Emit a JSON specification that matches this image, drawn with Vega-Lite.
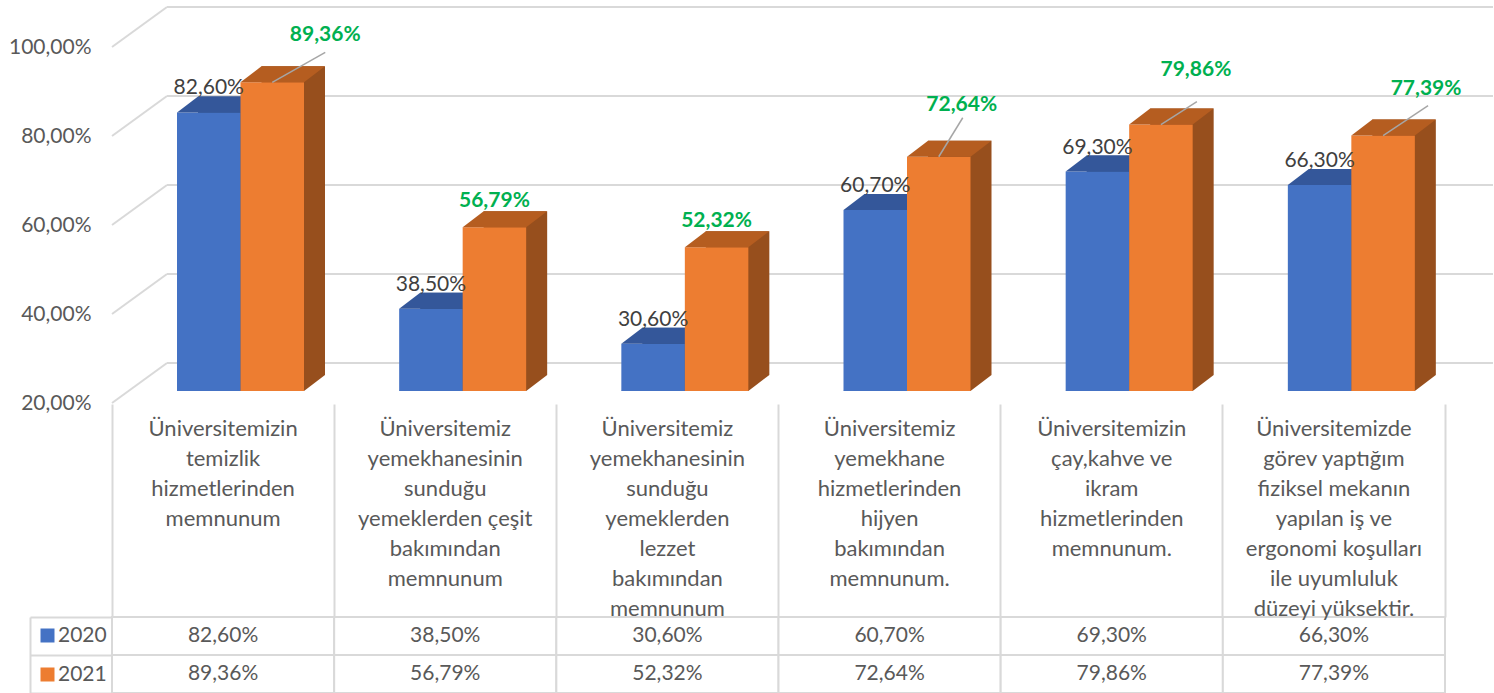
{
  "$schema": "https://vega.github.io/schema/vega-lite/v6.json",
  "background": "white",
  "padding": {"left": 8, "top": 6, "right": 0, "bottom": 0},
  "config": {
    "view": {"stroke": null},
    "font": "Lato",
    "locale": {"number": {"decimal": ",", "thousands": ".", "grouping": [3], "currency": ["", " TL"]}}
  },
  "datasets": {
    "survey": [
      {"k": 1, "cat": "Üniversitemizin\ntemizlik\nhizmetlerinden\nmemnunum", "year": "2020", "value": 0.826},
      {"k": 2, "cat": "Üniversitemiz\nyemekhanesinin\nsunduğu\nyemeklerden çeşit\nbakımından\nmemnunum", "year": "2020", "value": 0.385},
      {"k": 3, "cat": "Üniversitemiz\nyemekhanesinin\nsunduğu\nyemeklerden\nlezzet\nbakımından\nmemnunum", "year": "2020", "value": 0.306},
      {"k": 4, "cat": "Üniversitemiz\nyemekhane\nhizmetlerinden\nhijyen\nbakımından\nmemnunum.", "year": "2020", "value": 0.607},
      {"k": 5, "cat": "Üniversitemizin\nçay,kahve ve\nikram\nhizmetlerinden\nmemnunum.", "year": "2020", "value": 0.693},
      {"k": 6, "cat": "Üniversitemizde\ngörev yaptığım\nfiziksel mekanın\nyapılan iş ve\nergonomi koşulları\nile uyumluluk\ndüzeyi yüksektir.", "year": "2020", "value": 0.663},
      {"k": 1, "cat": "Üniversitemizin\ntemizlik\nhizmetlerinden\nmemnunum", "year": "2021", "value": 0.8936},
      {"k": 2, "cat": "Üniversitemiz\nyemekhanesinin\nsunduğu\nyemeklerden çeşit\nbakımından\nmemnunum", "year": "2021", "value": 0.5679},
      {"k": 3, "cat": "Üniversitemiz\nyemekhanesinin\nsunduğu\nyemeklerden\nlezzet\nbakımından\nmemnunum", "year": "2021", "value": 0.5232},
      {"k": 4, "cat": "Üniversitemiz\nyemekhane\nhizmetlerinden\nhijyen\nbakımından\nmemnunum.", "year": "2021", "value": 0.7264},
      {"k": 5, "cat": "Üniversitemizin\nçay,kahve ve\nikram\nhizmetlerinden\nmemnunum.", "year": "2021", "value": 0.7986},
      {"k": 6, "cat": "Üniversitemizde\ngörev yaptığım\nfiziksel mekanın\nyapılan iş ve\nergonomi koşulları\nile uyumluluk\ndüzeyi yüksektir.", "year": "2021", "value": 0.7739}
    ],
    "grid": [{"g": 0.2}, {"g": 0.4}, {"g": 0.6}, {"g": 0.8}, {"g": 1.0}]
  },
  "spacing": 226,
  "bounds": "flush",
  "vconcat": [
    {
      "width": 1333,
      "height": 356,
      "data": {"name": "survey"},
      "layer": [
        {
          "data": {"name": "grid"},
          "mark": {"type": "rule", "stroke": "#d9d9d9", "strokeWidth": 2, "yOffset": -28},
          "encoding": {
            "y": {"field": "g", "type": "quantitative",
                  "scale": {"domain": [0.2, 1.0], "nice": false, "zero": false},
                  "axis": {"title": null, "format": ".2%", "values": [0.2, 0.4, 0.6, 0.8, 1.0], "labelOffset": 12, "ticks": false, "domain": false, "grid": false, "labelPadding": 21, "labelFontSize": 21, "labelColor": "#595959", "labelFont": "Lato"}},
            "x": {"value": 55},
            "x2": {"value": 1381}
          }
        },
        {
          "data": {"name": "grid"},
          "mark": {"type": "rule", "stroke": "#d9d9d9", "strokeWidth": 2, "yOffset": 12, "y2Offset": -28},
          "encoding": {
            "y": {"field": "g", "type": "quantitative"},
            "y2": {"field": "g"},
            "x": {"value": 0},
            "x2": {"value": 55}
          }
        },
        {
          "transform": [{"filter": "datum.year == '2020'"}],
          "mark": {"type": "bar", "width": 63.5, "xOffset": 6.67, "yOffset": -16, "y2Offset": -16, "fill": "#2f5185"},
          "encoding": {
            "x": {"field": "cat", "type": "nominal", "sort": null, "scale": {"paddingInner": 0, "paddingOuter": 0}, "axis": null},
            "y": {"field": "value", "type": "quantitative"},
            "y2": {"datum": 0.2}
          }
        },
        {
          "transform": [{"filter": "datum.year == '2020'"}],
          "mark": {"type": "point", "shape": "M-0.635,0L0.635,0L1.055,-0.32L-0.215,-0.32Z", "size": 10000, "filled": true, "fill": "#2f5185", "opacity": 1, "strokeWidth": 0, "xOffset": -14.33},
          "encoding": {
            "x": {"field": "cat", "type": "nominal", "sort": null},
            "y": {"datum": 0.2}
          }
        },
        {
          "transform": [{"filter": "datum.year == '2020'"}],
          "mark": {"type": "bar", "width": 63.5, "xOffset": -14.33},
          "encoding": {
            "x": {"field": "cat", "type": "nominal", "sort": null},
            "y": {"field": "value", "type": "quantitative"},
            "y2": {"datum": 0.2},
            "color": {"field": "year", "type": "nominal",
                      "scale": {"domain": ["2020", "2021"], "range": ["#4472c4", "#ed7d31"]},
                      "legend": {"orient": "none", "legendX": -75, "legendY": 590, "title": null, "symbolType": "square", "symbolSize": 196, "symbolStrokeWidth": 0, "labelFontSize": 21, "labelColor": "#595959", "labelFont": "Lato", "labelOffset": 0, "rowPadding": 17, "padding": 0}}
          }
        },
        {
          "transform": [{"filter": "datum.year == '2020'"}],
          "mark": {"type": "point", "shape": "M-0.635,0L0.635,0L1.055,-0.32L-0.215,-0.32Z", "size": 10000, "filled": true, "fill": "#34579a", "opacity": 1, "strokeWidth": 0, "xOffset": -14.33},
          "encoding": {
            "x": {"field": "cat", "type": "nominal", "sort": null},
            "y": {"field": "value", "type": "quantitative"}
          }
        },
        {
          "transform": [{"filter": "datum.year == '2021'"}],
          "mark": {"type": "bar", "width": 63.5, "xOffset": 70.17, "yOffset": -16, "y2Offset": -16, "fill": "#974f1d"},
          "encoding": {
            "x": {"field": "cat", "type": "nominal", "sort": null},
            "y": {"field": "value", "type": "quantitative"},
            "y2": {"datum": 0.2}
          }
        },
        {
          "transform": [{"filter": "datum.year == '2021'"}],
          "mark": {"type": "point", "shape": "M-0.635,0L0.635,0L1.055,-0.32L-0.215,-0.32Z", "size": 10000, "filled": true, "fill": "#974f1d", "opacity": 1, "strokeWidth": 0, "xOffset": 49.17},
          "encoding": {
            "x": {"field": "cat", "type": "nominal", "sort": null},
            "y": {"datum": 0.2}
          }
        },
        {
          "transform": [{"filter": "datum.year == '2021'"}],
          "mark": {"type": "bar", "width": 63.5, "xOffset": 49.17},
          "encoding": {
            "x": {"field": "cat", "type": "nominal", "sort": null},
            "y": {"field": "value", "type": "quantitative"},
            "y2": {"datum": 0.2},
            "color": {"field": "year", "type": "nominal"}
          }
        },
        {
          "transform": [{"filter": "datum.year == '2021'"}],
          "mark": {"type": "point", "shape": "M-0.635,0L0.635,0L1.055,-0.32L-0.215,-0.32Z", "size": 10000, "filled": true, "fill": "#b55d20", "opacity": 1, "strokeWidth": 0, "xOffset": 49.17},
          "encoding": {
            "x": {"field": "cat", "type": "nominal", "sort": null},
            "y": {"field": "value", "type": "quantitative"}
          }
        },
        {
          "transform": [{"filter": "datum.year == '2020'"}],
          "mark": {"type": "text", "xOffset": -14.33, "dy": -18, "baseline": "alphabetic", "fontSize": 21, "fill": "#404040"},
          "encoding": {
            "x": {"field": "cat", "type": "nominal", "sort": null},
            "y": {"field": "value", "type": "quantitative"},
            "text": {"field": "value", "type": "quantitative", "format": ".2%"}
          }
        },
        {
          "transform": [{"filter": "datum.year == '2021' && datum.k == 1"}],
          "mark": {"type": "rule", "stroke": "#a6a6a6", "strokeWidth": 1.5, "xOffset": 49.17, "x2Offset": 102.17, "y2Offset": -30},
          "encoding": {
            "x": {"field": "cat", "type": "nominal", "sort": null},
            "x2": {"field": "cat"},
            "y": {"field": "value", "type": "quantitative"},
            "y2": {"field": "value"}
          }
        },
        {
          "transform": [{"filter": "datum.year == '2021' && datum.k == 4"}],
          "mark": {"type": "rule", "stroke": "#a6a6a6", "strokeWidth": 1.5, "xOffset": 49.17, "x2Offset": 73.17, "y2Offset": -39},
          "encoding": {
            "x": {"field": "cat", "type": "nominal", "sort": null},
            "x2": {"field": "cat"},
            "y": {"field": "value", "type": "quantitative"},
            "y2": {"field": "value"}
          }
        },
        {
          "transform": [{"filter": "datum.year == '2021' && datum.k == 5"}],
          "mark": {"type": "rule", "stroke": "#a6a6a6", "strokeWidth": 1.5, "xOffset": 49.17, "x2Offset": 85.17, "y2Offset": -23},
          "encoding": {
            "x": {"field": "cat", "type": "nominal", "sort": null},
            "x2": {"field": "cat"},
            "y": {"field": "value", "type": "quantitative"},
            "y2": {"field": "value"}
          }
        },
        {
          "transform": [{"filter": "datum.year == '2021' && datum.k == 6"}],
          "mark": {"type": "rule", "stroke": "#a6a6a6", "strokeWidth": 1.5, "xOffset": 49.17, "x2Offset": 94.17, "y2Offset": -30},
          "encoding": {
            "x": {"field": "cat", "type": "nominal", "sort": null},
            "x2": {"field": "cat"},
            "y": {"field": "value", "type": "quantitative"},
            "y2": {"field": "value"}
          }
        },
        {
          "transform": [{"filter": "datum.year == '2021' && datum.k == 1"}],
          "mark": {"type": "text", "xOffset": 102.17, "dy": -47, "baseline": "middle", "fontSize": 21, "fontWeight": "bold", "fill": "#00b050"},
          "encoding": {
            "x": {"field": "cat", "type": "nominal", "sort": null},
            "y": {"field": "value", "type": "quantitative"},
            "text": {"field": "value", "type": "quantitative", "format": ".2%"}
          }
        },
        {
          "transform": [{"filter": "datum.year == '2021' && (datum.k == 2 || datum.k == 3)"}],
          "mark": {"type": "text", "xOffset": 49.17, "dy": -26, "baseline": "middle", "fontSize": 21, "fontWeight": "bold", "fill": "#00b050"},
          "encoding": {
            "x": {"field": "cat", "type": "nominal", "sort": null},
            "y": {"field": "value", "type": "quantitative"},
            "text": {"field": "value", "type": "quantitative", "format": ".2%"}
          }
        },
        {
          "transform": [{"filter": "datum.year == '2021' && datum.k == 4"}],
          "mark": {"type": "text", "xOffset": 72.17, "dy": -52, "baseline": "middle", "fontSize": 21, "fontWeight": "bold", "fill": "#00b050"},
          "encoding": {
            "x": {"field": "cat", "type": "nominal", "sort": null},
            "y": {"field": "value", "type": "quantitative"},
            "text": {"field": "value", "type": "quantitative", "format": ".2%"}
          }
        },
        {
          "transform": [{"filter": "datum.year == '2021' && datum.k == 5"}],
          "mark": {"type": "text", "xOffset": 84.17, "dy": -55, "baseline": "middle", "fontSize": 21, "fontWeight": "bold", "fill": "#00b050"},
          "encoding": {
            "x": {"field": "cat", "type": "nominal", "sort": null},
            "y": {"field": "value", "type": "quantitative"},
            "text": {"field": "value", "type": "quantitative", "format": ".2%"}
          }
        },
        {
          "transform": [{"filter": "datum.year == '2021' && datum.k == 6"}],
          "mark": {"type": "text", "xOffset": 92.17, "dy": -47, "baseline": "middle", "fontSize": 21, "fontWeight": "bold", "fill": "#00b050"},
          "encoding": {
            "x": {"field": "cat", "type": "nominal", "sort": null},
            "y": {"field": "value", "type": "quantitative"},
            "text": {"field": "value", "type": "quantitative", "format": ".2%"}
          }
        }
      ]
    },
    {
      "width": 1333,
      "height": 76,
      "data": {"name": "survey"},
      "layer": [
        {
          "mark": {"type": "rect", "fill": "white", "stroke": "#d9d9d9", "strokeWidth": 2},
          "encoding": {
            "x": {"field": "cat", "type": "nominal", "sort": null,
                  "scale": {"paddingInner": 0, "paddingOuter": 0},
                  "axis": {"orient": "top", "title": null, "domain": false, "ticks": true, "tickSize": 213, "tickColor": "#d9d9d9", "tickWidth": 2, "bandPosition": 1, "tickExtra": true, "labelExpr": "split(datum.label, '\\n')", "labelBaseline": "top", "labelPadding": -14, "labelFontSize": 22, "labelFont": "Lato", "labelColor": "#595959", "labelLineHeight": 30, "labelLimit": 0, "labelOverlap": false, "labelBound": false, "labelAngle": 0}},
            "y": {"field": "year", "type": "nominal", "sort": null,
                  "scale": {"paddingInner": 0, "paddingOuter": 0},
                  "axis": {"title": null, "labels": false, "offset": 82, "domain": true, "domainColor": "#d9d9d9", "domainWidth": 2, "ticks": true, "tickSize": -82, "tickColor": "#d9d9d9", "tickWidth": 2, "bandPosition": 1, "tickExtra": true}}
          }
        },
        {
          "mark": {"type": "text", "fontSize": 21, "fill": "#595959", "baseline": "middle"},
          "encoding": {
            "x": {"field": "cat", "type": "nominal", "sort": null},
            "y": {"field": "year", "type": "nominal", "sort": null},
            "text": {"field": "value", "type": "quantitative", "format": ".2%"}
          }
        }
      ]
    }
  ]
}
